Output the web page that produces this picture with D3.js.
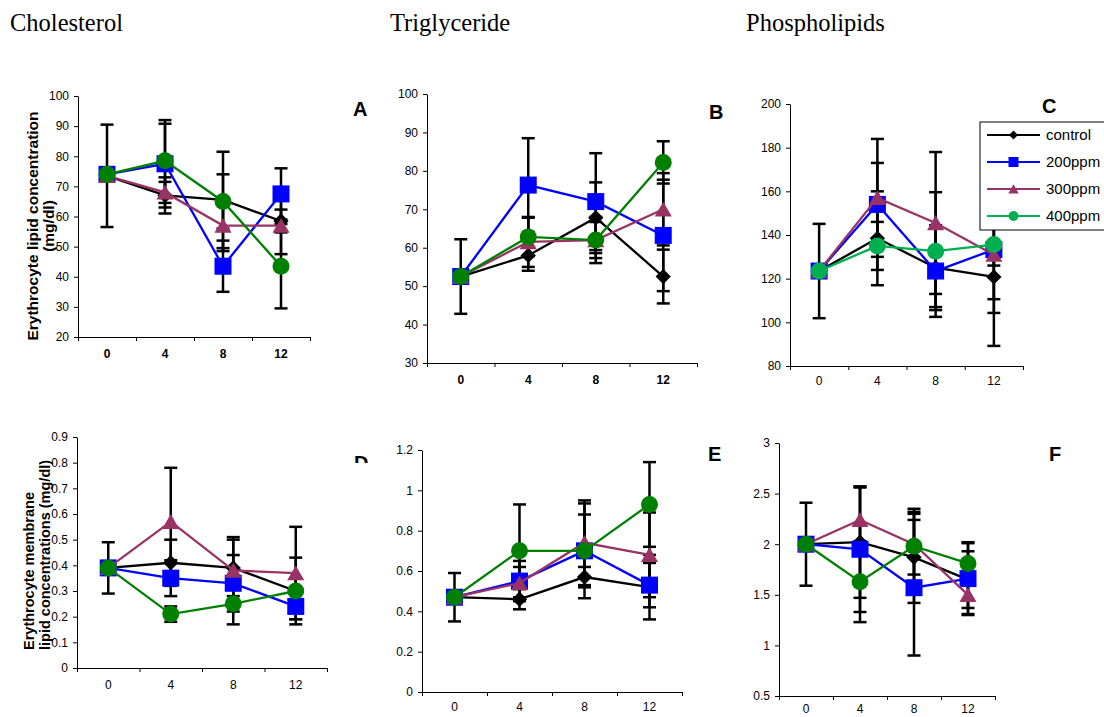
<!DOCTYPE html>
<html>
<head>
<meta charset="utf-8">
<script src="https://cdnjs.cloudflare.com/ajax/libs/d3/7.8.5/d3.min.js"></script>
<style>
body { margin: 0; background: #fff; }
svg { display: block; }
</style>
</head>
<body>
<div id="main"></div>
<script>
var times = ["0", "4", "8", "12"];
var groups = ["control", "200ppm", "300ppm", "400ppm"];

// rows follow groups: control, 200ppm, 300ppm, 400ppm
var cholMean = [[73.5, 67, 65.5, 58.5], [74, 77.5, 43.5, 67.5], [73.5, 68, 57, 57], [74, 78.5, 65, 43.5]];
var cholErr = [[17, 6, 16, 3.8], [null, 14.5, 8.5, 8.5], [null, 3.5, 8.5, 9.5], [null, 12.3, 9, 14]];
var cholTicks = [20, 30, 40, 50, 60, 70, 80, 90, 100];

var trigMean = [[52.5, 58, 67.8, 52.5], [52.5, 76.3, 72, 63.2], [52.5, 61.5, 62, 70], [52.5, 62.8, 62, 82.2]];
var trigErr = [[9.7, 4, 9.2, 7], [null, 12.2, 12.6, 14.5], [null, 6.5, 4.7, 9.4], [null, 5, 6, 5.5]];
var trigTicks = [30, 40, 50, 60, 70, 80, 90, 100];

var phosMean = [[123.5, 138.5, 125, 120.8], [123.5, 154, 123.5, 133.3], [123.5, 157, 145.5, 131], [123.5, 135, 132.6, 135.6]];
var phosErr = [[21.6, 21.5, 18, 31.6], [null, 19, 21, 29], [null, 27, 32.5, 5], [null, 11, 27, 25]];
var phosTicks = [80, 100, 120, 140, 160, 180, 200];

var memCholMean = [[0.39, 0.41, 0.39, 0.30], [0.39, 0.35, 0.33, 0.24], [0.39, 0.57, 0.38, 0.37], [0.39, 0.21, 0.25, 0.30]];
var memCholErr = [[0.10, 0.09, 0.11, 0.13], [null, 0.07, 0.11, 0.05], [null, 0.21, 0.13, 0.18], [null, 0.03, 0.08, 0.05]];
var memCholTicks = [0, 0.1, 0.2, 0.3, 0.4, 0.5, 0.6, 0.7, 0.8, 0.9];

var memTrigMean = [[0.47, 0.46, 0.57, 0.52], [0.47, 0.55, 0.70, 0.53], [0.47, 0.54, 0.74, 0.68], [0.47, 0.70, 0.70, 0.93]];
var memTrigErr = [[0.12, 0.05, 0.05, 0.16], [null, 0.10, 0.18, 0.11], [null, 0.08, 0.21, 0.21], [null, 0.23, 0.235, 0.21]];
var memTrigTicks = [0, 0.2, 0.4, 0.6, 0.8, 1, 1.2];

var memPhosMean = [[2.0, 2.02, 1.87, 1.65], [2.0, 1.95, 1.57, 1.66], [2.0, 2.24, 2.0, 1.50], [2.0, 1.63, 1.98, 1.81]];
var memPhosErr = [[0.41, 0.55, 0.45, 0.28], [null, 0.62, 0.67, 0.35], [null, 0.32, 0.3, 0.2], [null, 0.4, 0.37, 0.21]];
var memPhosTicks = [0.5, 1, 1.5, 2, 2.5, 3];

var columnTitles = ["Cholesterol", "Triglyceride", "Phospholipids"];
var panelLetters = ["A", "B", "C", "D", "E", "F"];

var sans = "'Liberation Sans', Arial, sans-serif";
var colors = ["#000000", "#0000ff", "#993366", "#008000"];
var shapes = ["diamond", "square", "triangle", "circle"];

var panels = [
  {mean: cholMean, err: cholErr, ticks: cholTicks, left: 78, right: 310, top: 96, bottom: 337, boldX: true, pad: 12},
  {mean: trigMean, err: trigErr, ticks: trigTicks, left: 427, right: 697, top: 94, bottom: 363, boldX: true, pad: 12},
  {mean: phosMean, err: phosErr, ticks: phosTicks, left: 790, right: 1023, top: 104, bottom: 366, green: "#00b050", pad: 10},
  {mean: memCholMean, err: memCholErr, ticks: memCholTicks, left: 77, right: 327, top: 437, bottom: 668, pad: 12},
  {mean: memTrigMean, err: memTrigErr, ticks: memTrigTicks, left: 422, right: 682, top: 450, bottom: 692, pad: 10},
  {mean: memPhosMean, err: memPhosErr, ticks: memPhosTicks, left: 779, right: 995, top: 443, bottom: 696, pad: 8}
];

var svg = d3.select("#main").append("svg")
  .attr("width", 1104)
  .attr("height", 717);

function drawMarker(g, shape, cx, cy, s, color) {
  var h = s / 2;
  if (shape === "circle") {
    g.append("circle").attr("cx", cx).attr("cy", cy).attr("r", h).attr("fill", color);
  } else if (shape === "square") {
    g.append("rect").attr("x", cx - h).attr("y", cy - h).attr("width", s).attr("height", s).attr("fill", color);
  } else if (shape === "diamond") {
    var d = h * 0.9;
    g.append("path").attr("d", "M" + cx + "," + (cy - d) + "L" + (cx + d) + "," + cy + "L" + cx + "," + (cy + d) + "L" + (cx - d) + "," + cy + "Z").attr("fill", color);
  } else {
    g.append("path").attr("d", "M" + cx + "," + (cy - h * 0.85) + "L" + (cx + h * 0.95) + "," + (cy + h * 0.8) + "L" + (cx - h * 0.95) + "," + (cy + h * 0.8) + "Z").attr("fill", color);
  }
}

panels.forEach(function(p) {
  var x = d3.scaleBand().domain(times).range([p.left, p.right]);
  var xb = d3.scaleLinear().domain([0, times.length]).range([p.left, p.right]);
  var y = d3.scaleLinear().domain([p.ticks[0], p.ticks[p.ticks.length - 1]]).range([p.bottom, p.top]);
  var g = svg.append("g");

  var ya = g.append("g")
    .attr("transform", "translate(" + p.left + ",0)")
    .call(d3.axisLeft(y).tickValues(p.ticks).tickFormat(function(d) { return String(d); }).tickSize(4).tickSizeOuter(0).tickPadding(5));
  ya.attr("font-size", 12).attr("font-family", sans);

  g.append("g")
    .attr("transform", "translate(0," + p.bottom + ")")
    .call(d3.axisBottom(xb).tickValues(d3.range(times.length + 1)).tickFormat("").tickSize(4).tickSizeOuter(0));

  var xa = g.append("g")
    .attr("transform", "translate(0," + p.bottom + ")")
    .call(d3.axisBottom(x).tickSize(0).tickPadding(p.pad));
  xa.select(".domain").remove();
  xa.attr("font-size", 12).attr("font-family", sans).attr("font-weight", p.boldX ? "bold" : "normal");

  // error bars
  p.err.forEach(function(row, si) {
    row.forEach(function(e, ti) {
      if (e == null) return;
      var cx = x(times[ti]) + x.bandwidth() / 2;
      var m = p.mean[si][ti];
      g.append("line").attr("x1", cx).attr("x2", cx).attr("y1", y(m - e)).attr("y2", y(m + e))
        .attr("stroke", "#000").attr("stroke-width", 2.5);
      [m - e, m + e].forEach(function(v) {
        g.append("line").attr("x1", cx - 6.5).attr("x2", cx + 6.5).attr("y1", y(v)).attr("y2", y(v))
          .attr("stroke", "#000").attr("stroke-width", 2.5);
      });
    });
  });

  // lines and markers
  var line = d3.line()
    .x(function(d, i) { return x(times[i]) + x.bandwidth() / 2; })
    .y(function(d) { return y(d); });
  var sizes = [17, 17, 18, 17];
  p.mean.forEach(function(row, si) {
    var col = (si === 3 && p.green) ? p.green : colors[si];
    g.append("path").datum(row).attr("d", line).attr("fill", "none").attr("stroke", col).attr("stroke-width", 2.3);
    row.forEach(function(v, ti) {
      drawMarker(g, shapes[si], x(times[ti]) + x.bandwidth() / 2, y(v), sizes[si], col);
    });
  });
});

// column titles
var titleX = [10, 390, 746];
columnTitles.forEach(function(t, i) {
  svg.append("text").attr("x", titleX[i]).attr("y", 31)
    .attr("font-family", "'Liberation Serif', 'Times New Roman', serif").attr("font-size", 24.5)
    .text(t);
});

// panel letters
var letterPos = [[353, 116], [709, 119], [1042, 113], [354, 470], [708, 461], [1049, 461]];
svg.append("clipPath").attr("id", "clipD").append("rect").attr("x", 340).attr("y", 440).attr("width", 40).attr("height", 23);
panelLetters.forEach(function(l, i) {
  var t = svg.append("text").attr("x", letterPos[i][0]).attr("y", letterPos[i][1])
    .attr("font-family", sans).attr("font-weight", "bold").attr("font-size", 20)
    .text(l);
  if (l === "D") t.attr("clip-path", "url(#clipD)");
});

// y titles
var yt1 = svg.append("text").attr("transform", "translate(38,226) rotate(-90)")
  .attr("text-anchor", "middle").attr("font-family", sans).attr("font-weight", "bold").attr("font-size", 15.5);
yt1.append("tspan").attr("x", 0).attr("dy", 0).text("Erythrocyte lipid concentration");
yt1.append("tspan").attr("x", 0).attr("dy", 16).text("(mg/dl)");

var yt2 = svg.append("text").attr("transform", "translate(34,650) rotate(-90)")
  .attr("text-anchor", "start").attr("font-family", sans).attr("font-weight", "bold").attr("font-size", 14.5);
yt2.append("tspan").attr("x", 0).attr("dy", 0).text("Erythrocyte membrane");
yt2.append("tspan").attr("x", 0).attr("dy", 16).text("lipid concentrations (mg/dl)");

// legend
var legend = svg.append("g").attr("transform", "translate(980,122)");
legend.append("rect").attr("x", 0).attr("y", 0).attr("width", 140).attr("height", 108)
  .attr("fill", "#fff").attr("stroke", "#000").attr("stroke-width", 1);
var legendColors = ["#000000", "#0000ff", "#993366", "#00b050"];
var legendSizes = [10, 10, 11, 10];
groups.forEach(function(name, i) {
  var ly = 13 + i * 27;
  legend.append("line").attr("x1", 7).attr("x2", 60).attr("y1", ly).attr("y2", ly)
    .attr("stroke", legendColors[i]).attr("stroke-width", 2);
  drawMarker(legend, shapes[i], 33.5, ly, legendSizes[i], legendColors[i]);
  legend.append("text").attr("x", 66).attr("y", ly + 5)
    .attr("font-family", sans).attr("font-size", 15).text(name);
});
</script>
</body>
</html>
